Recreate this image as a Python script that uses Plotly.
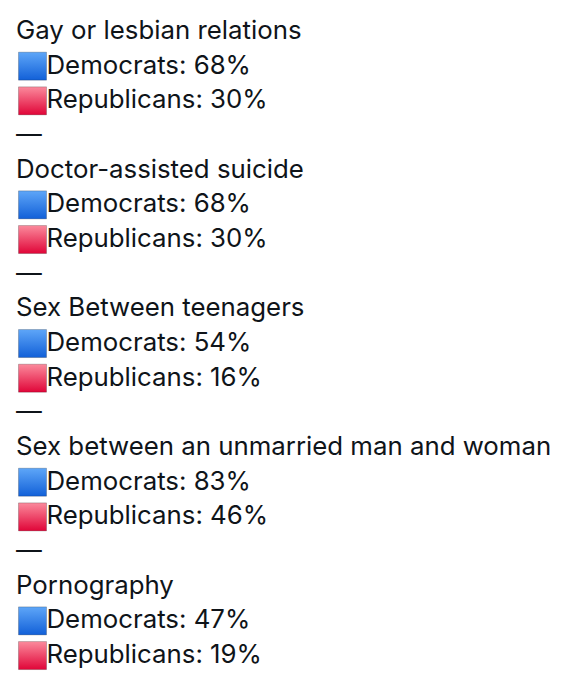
import plotly.graph_objects as go

# Topics and share saying it is morally acceptable, by party
topics = [
    "Gay or lesbian relations",
    "Doctor-assisted suicide",
    "Sex Between teenagers",
    "Sex between an unmarried man and woman",
    "Pornography",
]
democrats = [68, 68, 54, 83, 47]
republicans = [30, 30, 16, 46, 19]

ROW_H = 34.67
TOP = 32.5
FONT = "Inter"
INK = "#0f1419"
PAGE_PAD = 8  # body margin of the html page

# build the rows of the post: title, dem, rep, separator
text_x, text_y, labels = [], [], []
sq_y, sq_col, sq_grad = [], [], []
row = 0
for i, topic in enumerate(topics):
    text_x.append(16); text_y.append(TOP + row * ROW_H); labels.append(topic)
    row += 1
    for name, vals, col, grad in [("Democrats", democrats, "#5ea6f8", "#1260d8"),
                                  ("Republicans", republicans, "#fb8a9c", "#e00538")]:
        text_x.append(46.5); text_y.append(TOP + row * ROW_H)
        labels.append(f"{name}: {vals[i]}%")
        sq_y.append(TOP - 1 + row * ROW_H); sq_col.append(col); sq_grad.append(grad)
        row += 1
    if i < len(topics) - 1:
        text_x.append(16); text_y.append(TOP + row * ROW_H); labels.append("—")
        row += 1

fig = go.Figure()
fig.add_trace(go.Scatter(
    x=[32.5] * len(sq_y), y=sq_y, mode="markers",
    marker=dict(symbol="square", size=28, color=sq_col,
                gradient=dict(type="vertical", color=sq_grad),
                line=dict(width=0.7, color="rgba(0,0,0,0.3)")),
    hoverinfo="skip",
))
fig.add_trace(go.Scatter(
    x=text_x, y=text_y, mode="text", text=labels,
    textposition="middle right",
    textfont=dict(family=FONT, size=25.8, color=INK),
    hoverinfo="skip",
))

fig.update_layout(
    width=572, height=680,
    margin=dict(l=0, r=0, t=0, b=0),
    paper_bgcolor="white", plot_bgcolor="white",
    showlegend=False,
    xaxis=dict(range=[PAGE_PAD, 572 + PAGE_PAD], visible=False, fixedrange=True),
    yaxis=dict(range=[680 + PAGE_PAD, PAGE_PAD], visible=False, fixedrange=True),
)

fig.write_html("out.html")
